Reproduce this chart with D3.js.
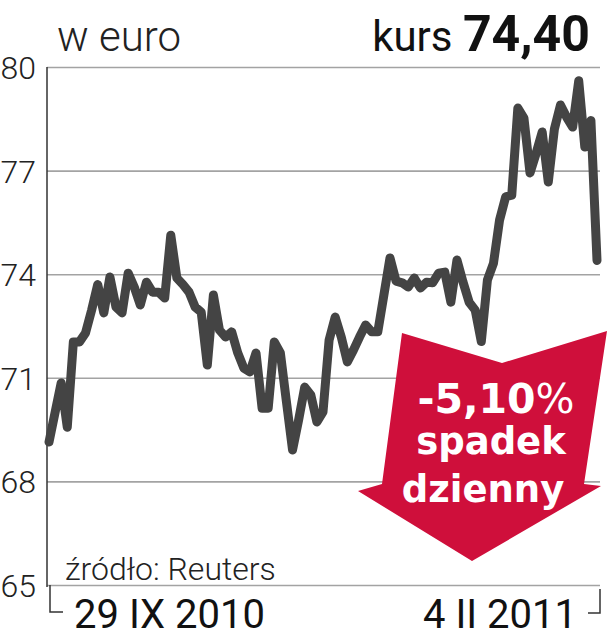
<!DOCTYPE html>
<html>
<head>
<meta charset="utf-8">
<script src="https://cdn.jsdelivr.net/npm/d3@7"></script>
<style>
  html, body { margin: 0; padding: 0; background: #fff; }
  svg { display: block; }
</style>
</head>
<body>
<div id="chart"></div>
<script>
// kurs w euro, notowania dzienne 29 IX 2010 - 4 II 2011
const values = [
  69.14, 70.0, 70.85, 69.57, 72.04, 72.04, 72.3, 72.96, 73.7, 72.88,
  73.92, 73.05, 72.88, 74.03, 73.63, 73.11, 73.77, 73.48, 73.48, 73.31,
  75.13, 73.89, 73.7, 73.48, 73.05, 72.9, 71.37, 73.4, 72.38, 72.18,
  72.33, 71.72, 71.28, 71.17, 71.72, 70.12, 70.12, 72.04, 71.72, 70.3,
  68.91, 69.78, 70.73, 70.5, 69.72, 70.01, 72.09, 72.76, 72.18, 71.46,
  71.8, 72.18, 72.53, 72.33, 72.33, 73.4, 74.47, 73.8, 73.75, 73.63,
  73.89, 73.6, 73.77, 73.75, 74.03, 74.06, 73.19, 74.41, 73.77, 73.19,
  72.96, 72.05, 73.83, 74.32, 75.57, 76.24, 76.29, 78.81, 78.52, 76.93,
  77.5, 78.12, 76.67, 78.2, 78.9, 78.55, 78.26, 79.6, 77.68, 78.45,
  74.4
];
const yTicks = [65, 68, 71, 74, 77, 80];
const xLabels = ["29 IX 2010", "4 II 2011"];
const unitLabel = "w euro";
const lastLabel = ["kurs ", "74,40"];
const changeLabel = ["-5,10", "%"];
const changeText = ["spadek", "dzienny"];
const sourceLabel = "źródło: Reuters";

const width = 608,
    height = 640;

const plotLeft = 47, plotRight = 600, plotTop = 67, plotBottom = 585;

const svg = d3.select("#chart").append("svg")
    .attr("width", width)
    .attr("height", height);

const x = d3.scaleLinear()
    .domain([0, values.length - 1])
    .range([49, 597]);

const y = d3.scaleLinear()
    .domain([65, 80])
    .range([plotBottom, plotTop]);

// siatka + opisy osi Y
const yAxis = svg.append("g")
    .attr("transform", `translate(${plotLeft},0)`)
    .call(d3.axisLeft(y)
        .tickValues(yTicks)
        .tickSize(-(plotRight - plotLeft))
        .tickPadding(11)
        .tickFormat(d3.format("d")));

yAxis.select(".domain").remove();
yAxis.selectAll(".tick line")
    .attr("stroke", "#a3a3a3")
    .attr("stroke-width", 1.6);
yAxis.selectAll(".tick text")
    .attr("fill", "#222")
    .attr("dy", "0.36em")
    .style("font-family", "Roboto, 'Liberation Sans', sans-serif")
    .style("font-weight", 300)
    .style("font-size", "32px");

svg.append("line")
    .attr("x1", plotLeft).attr("x2", plotLeft)
    .attr("y1", plotTop).attr("y2", plotBottom + 2)
    .attr("stroke", "#333")
    .attr("stroke-width", 1.5);

// klamry pod osia
svg.append("path")
    .attr("d", `M${plotLeft + 3},${plotBottom} V612 H${plotLeft + 16}`)
    .attr("fill", "none").attr("stroke", "#333").attr("stroke-width", 1.5);
svg.append("path")
    .attr("d", `M${plotRight},${plotBottom + 4} V613 H${plotRight - 12}`)
    .attr("fill", "none").attr("stroke", "#333").attr("stroke-width", 1.5);

const dateFont = "Roboto, 'Liberation Sans', sans-serif";
svg.append("text")
    .attr("x", x(0) + 25).attr("y", 628)
    .attr("fill", "#111")
    .style("font-family", dateFont).style("font-weight", 400).style("font-size", "40px")
    .text(xLabels[0]);
svg.append("text")
    .attr("x", x(values.length - 1) - 20).attr("y", 628)
    .attr("text-anchor", "end")
    .attr("fill", "#111")
    .style("font-family", dateFont).style("font-weight", 400).style("font-size", "40px")
    .text(xLabels[1]);

// linia kursu
const line = d3.line()
    .x((d, i) => x(i))
    .y(d => y(d));

svg.append("path")
    .datum(values)
    .attr("d", line)
    .attr("fill", "none")
    .attr("stroke", "#444")
    .attr("stroke-width", 9)
    .attr("stroke-linejoin", "round")
    .attr("stroke-linecap", "round");

// strzalka spadku
const arrow = [[402, 333], [502, 363], [607, 331], [584, 484], [601, 486], [472, 561], [358, 491], [382, 484]];
svg.append("polygon")
    .attr("points", arrow.map(p => p.join(",")).join(" "))
    .attr("fill", "#cf0f3b");

const arrowFont = "'DejaVu Sans', sans-serif";
const pct = svg.append("text")
    .attr("x", 496).attr("y", 413)
    .attr("text-anchor", "middle")
    .attr("fill", "#fff")
    .style("font-family", arrowFont).style("font-size", "41px");
pct.append("tspan").style("font-weight", 700).text(changeLabel[0]);
pct.append("tspan").style("font-weight", 400).text(changeLabel[1]);

svg.append("text")
    .attr("x", 491).attr("y", 454)
    .attr("text-anchor", "middle")
    .attr("fill", "#fff")
    .style("font-family", arrowFont).style("font-weight", 700).style("font-size", "37px")
    .text(changeText[0]);
svg.append("text")
    .attr("x", 483).attr("y", 502)
    .attr("text-anchor", "middle")
    .attr("fill", "#fff")
    .style("font-family", arrowFont).style("font-weight", 700).style("font-size", "37px")
    .text(changeText[1]);

// naglowki
svg.append("text")
    .attr("x", 57).attr("y", 51)
    .attr("fill", "#222")
    .style("font-family", "Roboto, sans-serif").style("font-weight", 300).style("font-size", "42px")
    .text(unitLabel);

const kurs = svg.append("text")
    .attr("x", 590).attr("y", 51)
    .attr("text-anchor", "end")
    .attr("fill", "#111")
    .style("font-family", "Roboto, sans-serif");
kurs.append("tspan").style("font-weight", 400).style("font-size", "42px").text(lastLabel[0]);
kurs.append("tspan").style("font-weight", 700).style("font-size", "50px").text(lastLabel[1]);

svg.append("text")
    .attr("x", 65).attr("y", 580)
    .attr("fill", "#222")
    .style("font-family", "Roboto, sans-serif").style("font-weight", 300).style("font-size", "32px")
    .text(sourceLabel);
</script>
</body>
</html>
